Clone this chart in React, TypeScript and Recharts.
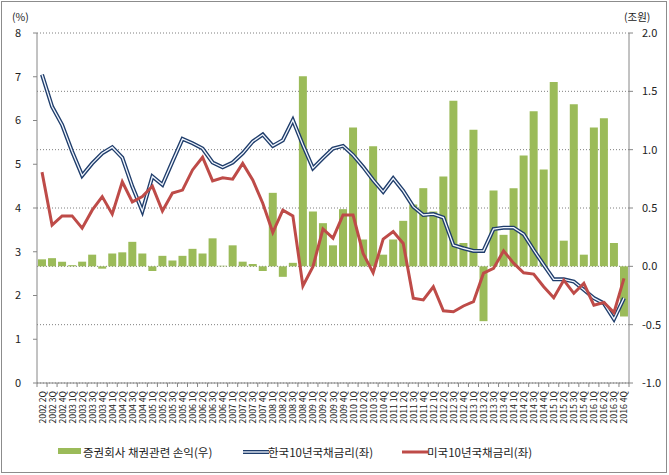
import React from 'react';
import { ComposedChart, Bar, Line, XAxis, YAxis, CartesianGrid } from 'recharts';

// 2002 2Q ~ 2016 4Q
const quarters = [
  '2002 2Q', '2002 3Q', '2002 4Q',
  '2003 1Q', '2003 2Q', '2003 3Q', '2003 4Q',
  '2004 1Q', '2004 2Q', '2004 3Q', '2004 4Q',
  '2005 1Q', '2005 2Q', '2005 3Q', '2005 4Q',
  '2006 1Q', '2006 2Q', '2006 3Q', '2006 4Q',
  '2007 1Q', '2007 2Q', '2007 3Q', '2007 4Q',
  '2008 1Q', '2008 2Q', '2008 3Q', '2008 4Q',
  '2009 1Q', '2009 2Q', '2009 3Q', '2009 4Q',
  '2010 1Q', '2010 2Q', '2010 3Q', '2010 4Q',
  '2011 1Q', '2011 2Q', '2011 3Q', '2011 4Q',
  '2012 1Q', '2012 2Q', '2012 3Q', '2012 4Q',
  '2013 1Q', '2013 2Q', '2013 3Q', '2013 4Q',
  '2014 1Q', '2014 2Q', '2014 3Q', '2014 4Q',
  '2015 1Q', '2015 2Q', '2015 3Q', '2015 4Q',
  '2016 1Q', '2016 2Q', '2016 3Q', '2016 4Q',
];

// 증권회사 채권관련 손익 (조원, 우축)
const bondPL = [
  0.06, 0.07, 0.04,
  0.01, 0.04, 0.1, -0.02,
  0.11, 0.12, 0.21, 0.11,
  -0.04, 0.09, 0.05, 0.09,
  0.15, 0.11, 0.24, 0.005,
  0.18, 0.04, 0.02, -0.04,
  0.63, -0.09, 0.03, 1.63,
  0.47, 0.37, 0.18, 0.49,
  1.19, 0.23, 1.03, 0.1,
  0.23, 0.39, 0.53, 0.67,
  0.47, 0.77, 1.42, 0.2,
  1.17, -0.47, 0.65, 0.27,
  0.67, 0.95, 1.33, 0.83,
  1.58, 0.22, 1.39, 0.1,
  1.19, 1.27, 0.2, -0.43,
];

// 한국10년국채금리 (%, 좌축)
const krRate = [
  7.05, 6.32, 5.9,
  5.29, 4.74, 5.02, 5.25,
  5.39, 5.15, 4.49, 3.93,
  4.72, 4.53, 5.06, 5.58,
  5.48, 5.36, 5.04, 4.93,
  5.04, 5.25, 5.52, 5.68,
  5.42, 5.55, 6.01, 5.44,
  4.91, 5.14, 5.36, 5.42,
  5.21, 4.94, 4.64, 4.37,
  4.68, 4.39, 4.03, 3.84,
  3.86, 3.78, 3.15, 3.08,
  3.02, 3.02, 3.52, 3.55,
  3.55, 3.4, 3.04, 2.7,
  2.37, 2.37, 2.32, 2.13,
  1.94, 1.82, 1.46, 1.94,
];

// 미국10년국채금리 (%, 좌축)
const usRate = [
  4.82, 3.61, 3.82,
  3.82, 3.54, 3.95, 4.26,
  3.86, 4.6, 4.14, 4.26,
  4.5, 3.93, 4.34, 4.41,
  4.87, 5.16, 4.62, 4.69,
  4.66, 5.02, 4.64, 4.11,
  3.44, 3.95, 3.82, 2.22,
  2.66, 3.52, 3.31, 3.84,
  3.84, 2.96, 2.52, 3.29,
  3.46, 3.19, 1.94, 1.9,
  2.2, 1.65, 1.63, 1.76,
  1.86, 2.51, 2.62, 3.02,
  2.74, 2.52, 2.49, 2.2,
  1.95, 2.35, 2.05, 2.28,
  1.78, 1.84, 1.61, 2.39,
];

const leftTicks = [0, 1, 2, 3, 4, 5, 6, 7, 8];
const rightTicks = [-1, -0.5, 0, 0.5, 1, 1.5, 2];

const data = quarters.map((q, i) => ({
  q,
  pl: bondPL[i],
  kr: krRate[i],
  us: usRate[i],
}));

const W = 669;
const H = 475;
const LEFT_W = 37;
const RIGHT_W = 40;
const TOP = 33;
const X_H = 92;
const HALF_BAND = (W - LEFT_W - RIGHT_W) / quarters.length / 2;
const FONT = '"Noto Sans CJK KR", "Noto Sans", sans-serif';
const AXIS = '#868686';
const GREEN = '#9bbb59';
const NAVY = '#1f3d6b';
const RED = '#be4b48';

function QuarterTick(props: any) {
  const { x, y, payload, index } = props;
  const last = index === quarters.length - 1;
  return (
    <g>
      <line x1={x - HALF_BAND} x2={x - HALF_BAND} y1={y} y2={y + 4} stroke={AXIS} />
      {last && <line x1={x + HALF_BAND} x2={x + HALF_BAND} y1={y} y2={y + 4} stroke={AXIS} />}
      <text
        transform={`translate(${x},${y + 8}) rotate(-90)`}
        textAnchor="end"
        dominantBaseline="central"
        fontSize={8.7}
        fill="#222"
        fontFamily={FONT}
      >
        {payload.value}
      </text>
    </g>
  );
}

const legendText: React.CSSProperties = {
  position: 'absolute',
  top: 444,
  fontSize: 11.5,
  lineHeight: '16px',
  color: '#222',
  fontFamily: FONT,
  whiteSpace: 'nowrap',
};

export default function App() {
  return (
    <div style={{ position: 'absolute', left: 0, top: 0, width: W, height: H, background: '#fff' }}>
      <ComposedChart
        width={W}
        height={H}
        data={data}
        margin={{ top: TOP, right: 0, left: 0, bottom: 0 }}
        barCategoryGap="10%"
      >
        <CartesianGrid yAxisId="right" vertical={false} stroke="#7f7f7f" strokeDasharray="1 2" />
        <XAxis
          dataKey="q"
          interval={0}
          height={X_H}
          tickLine={false}
          tickSize={0}
          tickMargin={0}
          axisLine={{ stroke: AXIS }}
          tick={<QuarterTick />}
        />
        <YAxis
          yAxisId="left"
          width={LEFT_W}
          domain={[0, 8]}
          ticks={leftTicks}
          tickSize={4}
          tickMargin={12}
          axisLine={{ stroke: AXIS }}
          tickLine={{ stroke: AXIS }}
          tick={{ fontSize: 11, fill: '#222', fontFamily: FONT }}
        />
        <YAxis
          yAxisId="right"
          orientation="right"
          width={RIGHT_W}
          domain={[-1, 2]}
          ticks={rightTicks}
          tickSize={4}
          tickMargin={9}
          axisLine={{ stroke: AXIS }}
          tickLine={{ stroke: AXIS }}
          tick={{ fontSize: 11, fill: '#222', fontFamily: FONT, textAnchor: 'start' }}
          tickFormatter={(v: number) => v.toFixed(1)}
        />
        <Bar yAxisId="right" dataKey="pl" fill={GREEN} isAnimationActive={false} />
        <Line
          yAxisId="left"
          dataKey="kr"
          stroke={NAVY}
          strokeWidth={4}
          dot={false}
          activeDot={false}
          isAnimationActive={false}
        />
        <Line
          yAxisId="left"
          dataKey="kr"
          stroke="#f2f7ff"
          strokeWidth={1.3}
          dot={false}
          activeDot={false}
          isAnimationActive={false}
        />
        <Line
          yAxisId="left"
          dataKey="us"
          stroke={RED}
          strokeWidth={3}
          dot={false}
          activeDot={false}
          isAnimationActive={false}
        />
      </ComposedChart>

      <div style={{ ...legendText, top: 9, left: 12, fontSize: 10.5 }}>(%)</div>
      <div style={{ ...legendText, top: 9, left: 624, fontSize: 10.5 }}>(조원)</div>

      <div style={{ position: 'absolute', left: 58, top: 448, width: 23, height: 6, background: GREEN }} />
      <div style={{ ...legendText, left: 83 }}>증권회사 채권관련 손익(우)</div>

      <svg style={{ position: 'absolute', left: 243, top: 448 }} width={26} height={8}>
        <line x1={0} x2={26} y1={4} y2={4} stroke={NAVY} strokeWidth={4} />
        <line x1={0} x2={26} y1={4} y2={4} stroke="#f2f7ff" strokeWidth={1.3} />
      </svg>
      <div style={{ ...legendText, left: 268 }}>한국10년국채금리(좌)</div>

      <svg style={{ position: 'absolute', left: 402, top: 448 }} width={26} height={8}>
        <line x1={0} x2={26} y1={4} y2={4} stroke={RED} strokeWidth={3} />
      </svg>
      <div style={{ ...legendText, left: 427 }}>미국10년국채금리(좌)</div>

      <div
        style={{
          position: 'absolute',
          left: 1,
          top: 1,
          width: 666,
          height: 472,
          boxSizing: 'border-box',
          border: '1px solid #8c8c8c',
          pointerEvents: 'none',
        }}
      />
    </div>
  );
}
